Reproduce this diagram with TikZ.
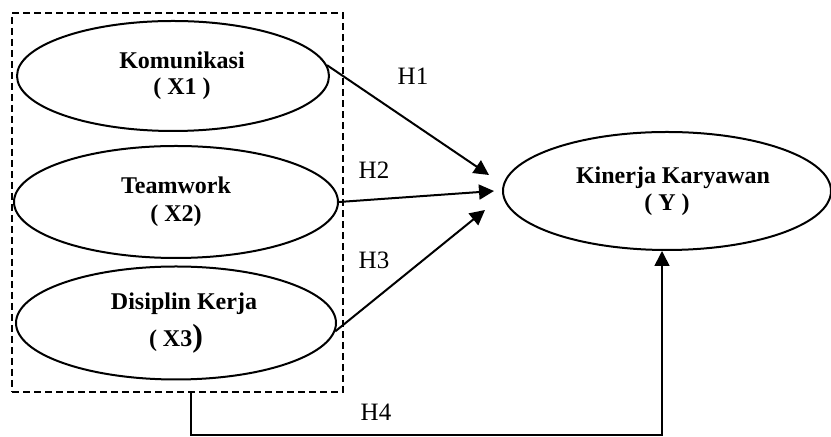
\documentclass[tikz,border=0pt]{standalone}
\usepackage{fontspec}
\setmainfont{Liberation Serif}
\usetikzlibrary{shapes.geometric,arrows.meta}

\begin{document}
\begin{tikzpicture}[
    x=0.5pt, y=-0.5pt,
    var/.style={
        draw, ellipse, line width=1pt, inner sep=0pt, align=center,
        font=\fontsize{12}{13}\selectfont\bfseries
      },
    hyp/.style={font=\fontsize{12.5}{15}\selectfont, inner sep=0pt},
    arr/.style={line width=1pt, -{Triangle[length=7.5pt,width=7.5pt]}},
  ]
  \useasboundingbox (0,0) rectangle (831,437);

  % dashed frame round the independent variables
  \node[draw, dash pattern=on 3.5pt off 2pt, line width=1pt, inner sep=0pt,
    minimum width=165.5pt, minimum height=189.5pt] (box) at (177.5,202.5) {};

  % independent variables
  \node[var, minimum width=156pt, minimum height=55pt] (x1) at (173,76)
    {\hspace*{9pt}Komunikasi\\\hspace*{9pt}( X1 )};
  \node[var, minimum width=162pt, minimum height=56pt] (x2) at (176,202)
    {Teamwork\\[1pt]( X2)};
  \node[var, minimum width=160pt, minimum height=56.5pt] (x3) at (176,323)
    {\hspace*{8pt}Disiplin Kerja\\[3.5pt]( X3{\fontsize{16}{16}\selectfont)}};

  % dependent variable
  \node[var, minimum width=164pt, minimum height=59pt] (y) at (667,191)
    {\hspace*{6pt}Kinerja Karyawan\\[0.5pt]( Y )};

  % arrows H1 - H3
  \coordinate (t1) at (489,175);
  \coordinate (t2) at (494,191);
  \coordinate (t3) at (485,210);
  \draw[arr] (x1.4) -- (t1);
  \draw[arr] (x2.east) -- (t2);
  \draw[arr] (x3.-3) -- (t3);

  % arrow H4 from the frame
  \coordinate (h4s) at ([xshift=6.75pt]box.south);
  \coordinate (h4c) at (662,435);
  \draw[arr, line width=0.8pt] (h4s) |- (h4c) -- (h4c |- y.south);

  % hypothesis labels
  \node[hyp] (h1) at (413,76) {H1};
  \node[hyp] (h2) at (374,170) {H2};
  \node[hyp] (h3) at (374,260) {H3};
  \node[hyp] (h4) at (376,412) {H4};
\end{tikzpicture}
\end{document}
